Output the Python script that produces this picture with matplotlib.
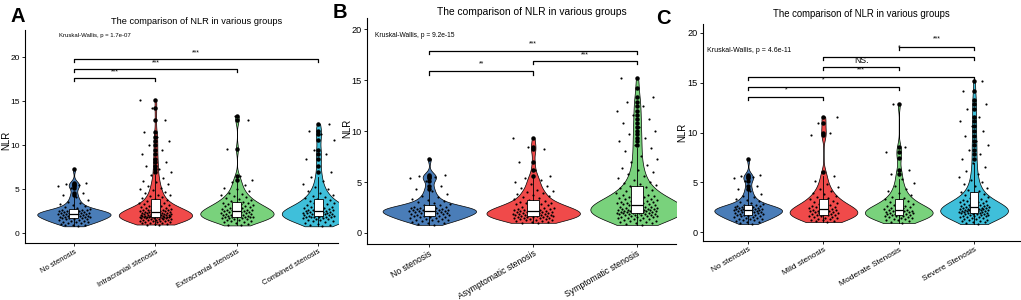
import numpy as np
import matplotlib
matplotlib.use("Agg")
import matplotlib.pyplot as plt

plt.rcParams['font.family'] = ['Liberation Sans', 'DejaVu Sans']

no_stenosis = [0.8, 0.9, 1.0, 1.0, 1.1, 1.2, 1.2, 1.3, 1.3, 1.3, 1.4, 1.4, 1.5, 1.5, 1.6, 1.6, 1.6, 1.7,
               1.7, 1.7, 1.8, 1.8, 1.8, 1.9, 1.9, 1.9, 2.0, 2.0, 2.0, 2.1, 2.1, 2.1, 2.1, 2.2, 2.2, 2.2,
               2.2, 2.3, 2.3, 2.3, 2.3, 2.3, 2.4, 2.4, 2.4, 2.4, 2.5, 2.5, 2.5, 2.6, 2.6, 2.6, 2.7, 2.7,
               2.8, 2.9, 3.0, 3.1, 3.2, 3.3, 3.5, 3.6, 3.8, 4.1, 4.3, 4.6, 5.1, 5.4, 5.5, 5.6, 5.7, 7.3]

intracranial = [1.0, 1.0, 1.1, 1.1, 1.2, 1.2, 1.2, 1.3, 1.3, 1.3, 1.4, 1.4, 1.4, 1.4, 1.5, 1.5, 1.5, 1.5,
                1.6, 1.6, 1.6, 1.6, 1.7, 1.7, 1.7, 1.7, 1.7, 1.8, 1.8, 1.8, 1.8, 1.8, 1.9, 1.9, 1.9, 1.9,
                1.9, 1.9, 2.0, 2.0, 2.0, 2.0, 2.0, 2.0, 2.1, 2.1, 2.1, 2.1, 2.1, 2.1, 2.2, 2.2, 2.2, 2.2,
                2.2, 2.2, 2.3, 2.3, 2.3, 2.3, 2.3, 2.4, 2.4, 2.4, 2.4, 2.5, 2.5, 2.5, 2.5, 2.6, 2.6, 2.6,
                2.7, 2.7, 2.7, 2.8, 2.8, 2.9, 2.9, 3.0, 3.0, 3.1, 3.1, 3.2, 3.2, 3.3, 3.4, 3.5, 3.5, 3.6,
                3.7, 3.8, 3.9, 4.0, 4.1, 4.2, 4.3, 4.4, 4.6, 4.7, 4.9, 5.0, 5.2, 5.4, 5.6, 5.8, 6.0, 6.3,
                6.6, 7.0, 7.3, 7.7, 8.1, 8.5, 9.0, 9.5, 10.0, 10.5, 11.0, 11.5, 12.9, 14.2, 15.2]

extracranial = [0.9, 1.0, 1.1, 1.2, 1.3, 1.3, 1.4, 1.4, 1.5, 1.5, 1.6, 1.6, 1.7, 1.7, 1.7, 1.8, 1.8, 1.8,
                1.9, 1.9, 1.9, 2.0, 2.0, 2.0, 2.0, 2.1, 2.1, 2.1, 2.2, 2.2, 2.2, 2.3, 2.3, 2.3, 2.4, 2.4,
                2.4, 2.5, 2.5, 2.5, 2.6, 2.6, 2.6, 2.7, 2.7, 2.8, 2.8, 2.9, 2.9, 3.0, 3.0, 3.1, 3.1, 3.2,
                3.2, 3.3, 3.3, 3.4, 3.5, 3.5, 3.6, 3.7, 3.8, 3.9, 4.0, 4.1, 4.2, 4.3, 4.5, 4.6, 4.8, 5.0,
                5.2, 5.5, 5.8, 6.1, 6.5, 9.6, 12.9, 13.3]

combined = [0.8, 0.9, 1.0, 1.1, 1.2, 1.3, 1.4, 1.4, 1.5, 1.5, 1.6, 1.6, 1.7, 1.7, 1.8, 1.8, 1.8, 1.9, 1.9,
            1.9, 2.0, 2.0, 2.0, 2.1, 2.1, 2.1, 2.2, 2.2, 2.2, 2.2, 2.3, 2.3, 2.3, 2.3, 2.4, 2.4, 2.4, 2.5,
            2.5, 2.5, 2.6, 2.6, 2.7, 2.7, 2.8, 2.8, 2.9, 2.9, 3.0, 3.0, 3.1, 3.2, 3.3, 3.4, 3.5, 3.6, 3.7,
            3.8, 3.9, 4.0, 4.1, 4.2, 4.4, 4.6, 4.8, 5.0, 5.3, 5.6, 6.0, 6.4, 7.0, 7.6, 8.5, 9.0, 9.5,
            10.6, 11.3, 11.6, 12.4]

asymptomatic = [1.0, 1.0, 1.1, 1.1, 1.2, 1.2, 1.3, 1.3, 1.3, 1.4, 1.4, 1.4, 1.5, 1.5, 1.5, 1.5, 1.6, 1.6,
                1.6, 1.6, 1.7, 1.7, 1.7, 1.7, 1.8, 1.8, 1.8, 1.8, 1.8, 1.9, 1.9, 1.9, 1.9, 1.9, 2.0, 2.0,
                2.0, 2.0, 2.1, 2.1, 2.1, 2.1, 2.2, 2.2, 2.2, 2.2, 2.3, 2.3, 2.3, 2.4, 2.4, 2.4, 2.5, 2.5,
                2.5, 2.6, 2.6, 2.7, 2.7, 2.8, 2.8, 2.9, 2.9, 3.0, 3.0, 3.1, 3.2, 3.3, 3.4, 3.5, 3.6, 3.7,
                3.8, 3.9, 4.0, 4.1, 4.2, 4.4, 4.6, 4.8, 5.0, 5.2, 5.4, 5.6, 6.2, 7.0, 8.2, 8.4, 9.3]

symptomatic = [0.8, 0.9, 1.0, 1.0, 1.1, 1.1, 1.2, 1.2, 1.3, 1.3, 1.4, 1.4, 1.5, 1.5, 1.5, 1.6, 1.6, 1.6,
               1.7, 1.7, 1.7, 1.8, 1.8, 1.8, 1.8, 1.9, 1.9, 1.9, 1.9, 2.0, 2.0, 2.0, 2.0, 2.0, 2.1, 2.1,
               2.1, 2.1, 2.1, 2.2, 2.2, 2.2, 2.2, 2.2, 2.3, 2.3, 2.3, 2.3, 2.3, 2.4, 2.4, 2.4, 2.4, 2.5,
               2.5, 2.5, 2.5, 2.6, 2.6, 2.6, 2.6, 2.7, 2.7, 2.7, 2.8, 2.8, 2.8, 2.9, 2.9, 2.9, 3.0, 3.0,
               3.0, 3.1, 3.1, 3.2, 3.2, 3.3, 3.3, 3.4, 3.4, 3.5, 3.5, 3.6, 3.6, 3.7, 3.7, 3.8, 3.9, 4.0,
               4.1, 4.2, 4.3, 4.4, 4.5, 4.6, 4.7, 4.8, 4.9, 5.0, 5.2, 5.4, 5.6, 5.8, 6.0, 6.2, 6.4, 6.7,
               7.0, 7.3, 7.6, 8.0, 8.3, 8.6, 9.0, 9.3, 9.7, 10.0, 10.4, 10.8, 11.2, 11.6, 12.0, 12.5,
               12.9, 13.3, 14.2, 15.2]

mild = [1.0, 1.1, 1.1, 1.2, 1.2, 1.3, 1.3, 1.4, 1.4, 1.5, 1.5, 1.6, 1.6, 1.7, 1.7, 1.7, 1.8, 1.8, 1.8,
        1.9, 1.9, 1.9, 2.0, 2.0, 2.0, 2.1, 2.1, 2.1, 2.2, 2.2, 2.2, 2.3, 2.3, 2.4, 2.4, 2.5, 2.5, 2.6,
        2.6, 2.7, 2.8, 2.9, 3.0, 3.0, 3.1, 3.2, 3.3, 3.4, 3.5, 3.6, 3.8, 3.9, 4.1, 4.3, 4.5, 4.8, 5.1,
        5.6, 6.0, 9.7, 10.0, 11.0, 11.6]

moderate = [0.9, 1.0, 1.1, 1.2, 1.2, 1.3, 1.3, 1.4, 1.4, 1.5, 1.5, 1.6, 1.6, 1.6, 1.7, 1.7, 1.7, 1.8,
            1.8, 1.8, 1.9, 1.9, 1.9, 2.0, 2.0, 2.0, 2.1, 2.1, 2.1, 2.2, 2.2, 2.2, 2.3, 2.3, 2.4, 2.4,
            2.5, 2.5, 2.6, 2.6, 2.7, 2.8, 2.9, 3.0, 3.1, 3.2, 3.3, 3.4, 3.5, 3.7, 3.9, 4.1, 4.3, 4.6,
            4.9, 5.3, 5.8, 6.2, 7.4, 8.0, 8.5, 12.9]

severe = [0.8, 0.9, 1.0, 1.0, 1.1, 1.1, 1.2, 1.2, 1.3, 1.3, 1.4, 1.4, 1.5, 1.5, 1.5, 1.6, 1.6, 1.6, 1.7,
          1.7, 1.7, 1.8, 1.8, 1.8, 1.8, 1.9, 1.9, 1.9, 1.9, 2.0, 2.0, 2.0, 2.0, 2.0, 2.1, 2.1, 2.1, 2.1,
          2.1, 2.2, 2.2, 2.2, 2.2, 2.2, 2.3, 2.3, 2.3, 2.3, 2.3, 2.4, 2.4, 2.4, 2.4, 2.5, 2.5, 2.5, 2.5,
          2.6, 2.6, 2.6, 2.7, 2.7, 2.7, 2.8, 2.8, 2.9, 2.9, 3.0, 3.0, 3.1, 3.1, 3.2, 3.2, 3.3, 3.4, 3.5,
          3.6, 3.7, 3.8, 3.9, 4.0, 4.1, 4.2, 4.4, 4.6, 4.8, 5.0, 5.2, 5.5, 5.8, 6.1, 6.5, 6.9, 7.3, 7.8,
          8.2, 8.7, 9.1, 9.6, 10.2, 10.7, 11.2, 11.6, 12.4, 12.9, 13.3, 14.2, 15.2]

blue, red, green, cyan = '#4A7DB8', '#F04A4A', '#79D27C', '#3FBFDA'

panels = [
    dict(groups=[no_stenosis, intracranial, extracranial, combined],
         labels=['No stenosis', 'Intracranial stenosis', 'Extracranial stenosis', 'Combined stenosis'],
         colors=[blue, red, green, cyan],
         rect=(25, 30, 338, 243), xlim=(0.4, 4.24), ylim=(-1.1, 23.1),
         kw=('Kruskal-Wallis, p = 1.7e-07', 0.815, 22.5, 4.3),
         brackets=[(1, 2, 17.6, '***', 18.3), (1, 3, 18.7, '***', 19.4), (1, 4, 19.8, '***', 20.5)],
         title=(197, 21, 6.7), letter=('A', 18, 16), ylab=(6, 140),
         tickfs=6.0, xfs=5.5),
    dict(groups=[no_stenosis, asymptomatic, symptomatic],
         labels=['No stenosis', 'Asymptomatic stenosis', 'Symptomatic stenosis'],
         colors=[blue, red, green],
         rect=(367, 18, 676, 244), xlim=(0.4, 3.375), ylim=(-1.08, 21.1),
         kw=('Kruskal-Wallis, p = 9.2e-15', 0.477, 19.4, 4.8),
         brackets=[(1, 3, 17.9, '***', 18.6), (2, 3, 16.9, '***', 17.5), (1, 2, 15.9, '**', 16.6)],
         title=(532, 12, 7.4), letter=('B', 340, 12), ylab=(347, 128),
         tickfs=6.6, xfs=6.2),
    dict(groups=[no_stenosis, mild, moderate, severe],
         labels=['No stenosis', 'Mild stenosis', 'Moderate Stenosis', 'Severe Stenosis'],
         colors=[blue, red, green, cyan],
         rect=(703, 24, 1020, 241), xlim=(0.4, 4.61), ylim=(-0.9, 20.9),
         kw=('Kruskal-Wallis, p = 4.6e-11', 0.453, 18.2, 5.0),
         brackets=[(1, 2, 13.6, '*', 14.3), (1, 3, 14.6, '*', 15.3), (1, 4, 15.6, '***', 16.3),
                   (2, 3, 16.6, 'NS.', 17.2), (2, 4, 17.6, '*', 18.5), (3, 4, 18.6, '***', 19.4)],
         title=(861, 14, 6.9), letter=('C', 663, 18), ylab=(682, 132),
         tickfs=6.6, xfs=6.0),
]

W, H = 1021, 300
fig = plt.figure(figsize=(W / 100, H / 100), dpi=100)


def nrd0_factor(vals, adjust=1.3):
    # ggplot-style bandwidth, expressed as a factor of the data sd
    v = np.asarray(vals)
    sd = v.std(ddof=1)
    iqr = np.subtract(*np.percentile(v, [75, 25]))
    bw = 0.9 * min(sd, iqr / 1.34) * len(v) ** -0.2
    return adjust * bw / sd


for p in panels:
    l, t, r, b = p['rect']
    ax = fig.add_axes([l / W, 1 - b / H, (r - l) / W, (b - t) / H])
    for i, (vals, col) in enumerate(zip(p['groups'], p['colors'])):
        pos = i + 1
        parts = ax.violinplot([vals], positions=[pos], widths=0.9, showextrema=False,
                              bw_method=nrd0_factor(vals), points=300)
        for body in parts['bodies']:
            body.set_facecolor(col)
            body.set_edgecolor('black')
            body.set_linewidth(0.5)
            body.set_alpha(1)
        n = len(vals)
        offs = (((np.arange(n) + 1) * 0.6180339887) % 1 - 0.5) * 0.4
        ax.scatter(pos + offs, vals, s=2.4, color='black', lw=0, zorder=3)
        ax.boxplot([vals], positions=[pos], widths=0.11, patch_artist=True,
                   boxprops=dict(facecolor='white', edgecolor='black', linewidth=0.6),
                   medianprops=dict(color='black', linewidth=0.9),
                   whiskerprops=dict(color='black', linewidth=0.6),
                   capprops=dict(linewidth=0),
                   flierprops=dict(marker='o', markersize=2.2, markerfacecolor='black',
                                   markeredgecolor='black'),
                   zorder=4, manage_ticks=False)
    for (i, j, y, lab, ly) in p['brackets']:
        ax.plot([i, i, j, j], [y - 0.35, y, y, y - 0.35], color='black', lw=0.9, clip_on=False)
        fs = 6.2 if lab == 'NS.' else 5.0
        ax.text((i + j) / 2, ly, lab, ha='center', va='center', fontsize=fs)
    txt, kx, ky, kfs = p['kw']
    ax.text(kx, ky, txt, ha='left', va='center', fontsize=kfs)

    ax.set_xlim(*p['xlim'])
    ax.set_ylim(*p['ylim'])
    ax.set_xticks(range(1, len(p['labels']) + 1))
    ax.set_xticklabels(p['labels'], rotation=30, ha='right', rotation_mode='anchor', fontsize=p['xfs'])
    ax.set_yticks([0, 5, 10, 15, 20])
    ax.tick_params(direction='out', length=2.5, width=0.6, pad=1.2, colors='black')
    ax.tick_params(axis='y', labelsize=p['tickfs'])
    for s in ['top', 'right']:
        ax.spines[s].set_visible(False)
    for s in ['left', 'bottom']:
        ax.spines[s].set_linewidth(0.8)

    tx, ty, tfs = p['title']
    fig.text(tx / W, 1 - ty / H, 'The comparison of NLR in various groups', ha='center', va='center',
             fontsize=tfs)
    letter, lx, ly2 = p['letter']
    fig.text(lx / W, 1 - ly2 / H, letter, ha='center', va='center', fontsize=14.5, fontweight='bold')
    yx, yy = p['ylab']
    fig.text(yx / W, 1 - yy / H, 'NLR', ha='center', va='center', rotation=90, fontsize=7)

fig.savefig('out.png', dpi=100)
